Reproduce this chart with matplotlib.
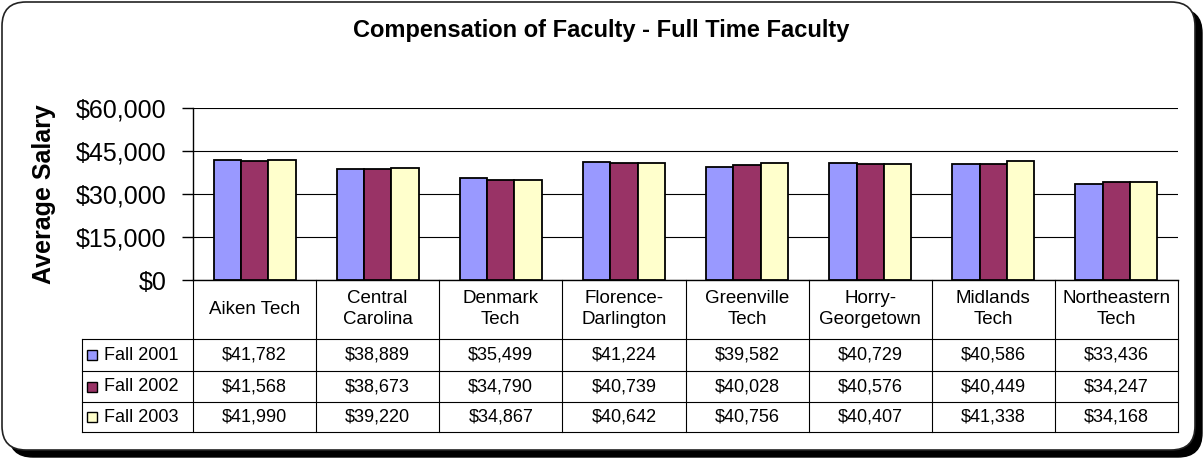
import numpy as np
import matplotlib
matplotlib.use('Agg')
from matplotlib import pyplot as plt
from matplotlib.patches import FancyBboxPatch, Rectangle

plt.rcParams['font.family'] = ['Liberation Sans', 'DejaVu Sans']

# data
colleges = ['Aiken Tech', 'Central\nCarolina', 'Denmark\nTech', 'Florence-\nDarlington',
            'Greenville\nTech', 'Horry-\nGeorgetown', 'Midlands\nTech', 'Northeastern\nTech']
series = ['Fall 2001', 'Fall 2002', 'Fall 2003']
fall_2001 = [41782, 38889, 35499, 41224, 39582, 40729, 40586, 33436]
fall_2002 = [41568, 38673, 34790, 40739, 40028, 40576, 40449, 34247]
fall_2003 = [41990, 39220, 34867, 40642, 40756, 40407, 41338, 34168]
colors = ['#9999FF', '#993366', '#FFFFCC']
yticks = [0, 15000, 30000, 45000, 60000]

W, H = 1204, 461
fig = plt.figure(figsize=(W / 100, H / 100), dpi=100)
fig.patch.set_facecolor('white')

# overlay in pixel coords (y down) for border + data table
bg = fig.add_axes([0, 0, 1, 1])
bg.set_xlim(0, W)
bg.set_ylim(H, 0)
bg.axis('off')

bg.add_patch(FancyBboxPatch((9, 9), 1193, 448, boxstyle='round,pad=0,rounding_size=24',
                            facecolor='black', edgecolor='black', lw=1))
bg.add_patch(FancyBboxPatch((2, 2), 1193, 448, boxstyle='round,pad=0,rounding_size=24',
                            facecolor='white', edgecolor='#222222', lw=1.2))

bg.text(601, 30, 'Compensation of Faculty - Full Time Faculty', ha='center', va='center',
        fontsize=17, fontweight='bold')

# plot area (pixels)
px_l, px_r, py_t, py_b = 193, 1178, 108, 280
ax = fig.add_axes([px_l / W, (H - py_b) / H, (px_r - px_l) / W, (py_b - py_t) / H])
ax.set_facecolor('none')
ax.set_xlim(-0.5, len(colleges) - 0.5)
ax.set_ylim(0, 60000)

x = np.arange(len(colleges))
bw = 0.222
for j, vals in enumerate([fall_2001, fall_2002, fall_2003]):
    ax.bar(x + (j - 1) * bw, vals, bw, color=colors[j], edgecolor='black', lw=1.3, zorder=3)

ax.set_yticks(yticks)
ax.set_yticklabels(['${:,}'.format(v) for v in yticks], fontsize=18)
ax.yaxis.grid(True, color='black', lw=0.8, zorder=0)
ax.set_xticks([])
for s in ['top', 'right']:
    ax.spines[s].set_visible(False)
ax.spines['left'].set_lw(1)
ax.spines['bottom'].set_lw(1)
ax.tick_params(axis='y', length=8, width=1, pad=11)
ax.set_ylabel('Average Salary', fontsize=18, fontweight='bold', labelpad=14)

# data table
n = len(colleges)
colw = (px_r - px_l) / n
edges = [px_l + i * colw for i in range(n + 1)]
tab_l = 82
rows = [280, 339, 371, 402, 432]
lc = 'black'
lw = 0.8
for e in edges:
    bg.plot([e, e], [rows[0], rows[-1]], color=lc, lw=lw)
bg.plot([tab_l, tab_l], [rows[1], rows[-1]], color=lc, lw=lw)
for r in rows[1:]:
    bg.plot([tab_l, px_r], [r, r], color=lc, lw=lw)

for i, name in enumerate(colleges):
    cx = (edges[i] + edges[i + 1]) / 2
    bg.text(cx, 309, name, ha='center', va='center', fontsize=13.5, linespacing=1.35)

for k, (lab, vals) in enumerate(zip(series, [fall_2001, fall_2002, fall_2003])):
    cy = (rows[k + 1] + rows[k + 2]) / 2
    bg.add_patch(Rectangle((87, cy - 5), 10, 10, facecolor=colors[k], edgecolor='black', lw=1))
    bg.text(104, cy, lab, ha='left', va='center', fontsize=13)
    for i, v in enumerate(vals):
        cx = (edges[i] + edges[i + 1]) / 2
        bg.text(cx, cy, '${:,}'.format(v), ha='center', va='center', fontsize=13)

fig.savefig('out.png', dpi=100)
